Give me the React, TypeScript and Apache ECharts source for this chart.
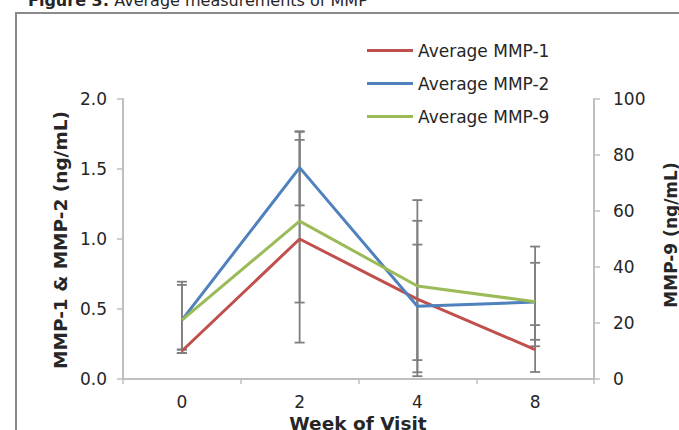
import React, { useEffect, useRef } from "react";
import * as echarts from "echarts";

const categories = ["0", "2", "4", "8"];
const mmp1 = [0.2, 1.0, 0.57, 0.21];
const mmp2 = [0.42, 1.51, 0.52, 0.55];
const mmp9 = [21, 56.4, 33.2, 27.6];
const mmp1Low = [0.185, 0.26, 0.02, 0.05];
const mmp1High = [0.21, 1.77, 1.13, 0.385];
const mmp2Low = [0.21, 1.24, 0.135, 0.28];
const mmp2High = [0.695, 1.765, 0.96, 0.83];
const mmp9Low = [9.3, 27.3, 2.4, 11.7];
const mmp9High = [33.6, 85.4, 63.9, 47.3];
const leftTicks = [0, 0.5, 1.0, 1.5, 2.0];
const rightTicks = [0, 20, 40, 60, 80, 100];

const FONT = "DejaVu Sans";
const TXT = "#262626";
const AX = "#bfbfbf";

function errSeries(low: number[], high: number[], yAxisIndex: number) {
  return {
    type: "custom",
    yAxisIndex,
    z: 1,
    silent: true,
    clip: false,
    encode: { x: 0, y: [1, 2] },
    data: categories.map((_, i) => [i, low[i], high[i]]),
    renderItem: (params: any, api: any) => {
      const lo = api.coord([api.value(0), api.value(1)]);
      const hi = api.coord([api.value(0), api.value(2)]);
      const hw = 5;
      const st = { stroke: "#7f7f7f", lineWidth: 1.8 };
      return {
        type: "group",
        children: [
          { type: "line", shape: { x1: lo[0], y1: lo[1], x2: hi[0], y2: hi[1] }, style: st },
          { type: "line", shape: { x1: lo[0] - hw, y1: lo[1], x2: lo[0] + hw, y2: lo[1] }, style: st },
          { type: "line", shape: { x1: hi[0] - hw, y1: hi[1], x2: hi[0] + hw, y2: hi[1] }, style: st },
        ],
      };
    },
  };
}

export default function App() {
  const ref = useRef<HTMLDivElement>(null);
  useEffect(() => {
    if (!ref.current) return;
    const chart = echarts.init(ref.current, undefined, { renderer: "svg" });
    const lineSeries = (name: string, data: number[], color: string, yAxisIndex: number) => ({
      name,
      type: "line",
      data,
      yAxisIndex,
      z: 3,
      showSymbol: false,
      symbol: "none",
      lineStyle: { color, width: 3 },
      itemStyle: { color },
    });
    chart.setOption({
      animation: false,
      textStyle: { fontFamily: FONT },
      grid: { left: 123, right: 85, top: 99, bottom: 51, containLabel: false },
      legend: {
        orient: "vertical",
        left: 362,
        top: 37,
        itemGap: 16,
        itemWidth: 46,
        itemHeight: 3,
        icon: "rect",
        textStyle: { fontFamily: FONT, fontSize: 17, color: TXT },
        data: ["Average MMP-1", "Average MMP-2", "Average MMP-9"],
      },
      xAxis: {
        type: "category",
        data: categories,
        boundaryGap: true,
        axisLine: { lineStyle: { color: AX, width: 2 } },
        axisTick: { show: true, length: 5, lineStyle: { color: AX, width: 1.5 } },
        axisLabel: { fontFamily: FONT, fontSize: 17, color: TXT, margin: 14 },
        splitLine: { show: false },
      },
      yAxis: [
        {
          type: "value",
          min: leftTicks[0],
          max: leftTicks[leftTicks.length - 1],
          interval: 0.5,
          axisLine: { show: true, lineStyle: { color: AX, width: 2 } },
          axisTick: { show: true, length: 6, lineStyle: { color: AX, width: 1.5 } },
          axisLabel: {
            fontFamily: FONT,
            fontSize: 17,
            color: TXT,
            margin: 16,
            formatter: (v: number) => v.toFixed(1),
          },
          splitLine: { show: false },
        },
        {
          type: "value",
          position: "right",
          min: rightTicks[0],
          max: rightTicks[rightTicks.length - 1],
          interval: 20,
          axisLine: { show: true, lineStyle: { color: AX, width: 2 } },
          axisTick: { show: true, length: 6, lineStyle: { color: AX, width: 1.5 } },
          axisLabel: { fontFamily: FONT, fontSize: 17, color: TXT, margin: 19 },
          splitLine: { show: false },
        },
      ],
      graphic: [
        {
          type: "rect",
          silent: true,
          shape: { x: 16, y: 13, width: 1000, height: 1000 },
          style: { fill: "none", stroke: "#8a8a8a", lineWidth: 2 },
        },
        {
          type: "text",
          x: 28,
          y: 8,
          style: {
            text: "{b|Figure 3:} Average measurements of MMP",
            font: `16px "${FONT}"`,
            fill: TXT,
            textVerticalAlign: "bottom",
            rich: { b: { fontWeight: "bold", fontSize: 16, fontFamily: FONT, fill: TXT } },
          },
        },
        {
          type: "text",
          x: 60,
          y: 240,
          rotation: Math.PI / 2,
          style: {
            text: "MMP-1 & MMP-2 (ng/mL)",
            font: `bold 18.5px "${FONT}"`,
            fill: TXT,
            textAlign: "center",
            textVerticalAlign: "middle",
          },
        },
        {
          type: "text",
          x: 671,
          y: 235,
          rotation: Math.PI / 2,
          style: {
            text: "MMP-9 (ng/mL)",
            font: `bold 17px "${FONT}"`,
            fill: TXT,
            textAlign: "center",
            textVerticalAlign: "middle",
          },
        },
        {
          type: "text",
          x: 358,
          y: 423,
          style: {
            text: "Week of Visit",
            font: `bold 18.5px "${FONT}"`,
            fill: TXT,
            textAlign: "center",
            textVerticalAlign: "middle",
          },
        },
      ],
      series: [
        errSeries(mmp1Low, mmp1High, 0),
        errSeries(mmp2Low, mmp2High, 0),
        errSeries(mmp9Low, mmp9High, 1),
        lineSeries("Average MMP-1", mmp1, "#C0504D", 0),
        lineSeries("Average MMP-2", mmp2, "#4F81BD", 0),
        lineSeries("Average MMP-9", mmp9, "#9BBB59", 1),
      ],
    });
    return () => chart.dispose();
  }, []);
  return (
    <div
      ref={ref}
      style={{ position: "fixed", left: 0, top: 0, width: 679, height: 430, background: "#fff" }}
    />
  );
}
